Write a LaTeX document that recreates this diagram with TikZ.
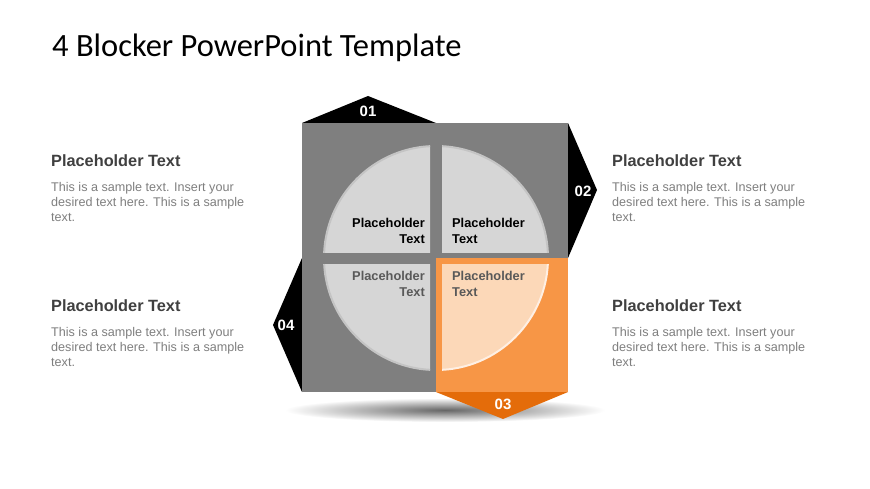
\documentclass[tikz,border=0pt]{standalone}
\usepackage{fontspec}
\setmainfont{Liberation Sans}
\newfontfamily\titlefont{Carlito}
\definecolor{sqgray}{HTML}{7F7F7F}
\definecolor{qgray}{HTML}{D6D6D6}
\definecolor{qedge}{HTML}{C4C4C4}
\definecolor{orsq}{HTML}{F79646}
\definecolor{ordark}{HTML}{E46C0A}
\definecolor{peach}{HTML}{FCD8B8}
\definecolor{headgray}{HTML}{404040}
\definecolor{bodygray}{HTML}{7F7F7F}
\definecolor{qtxtgray}{HTML}{595959}
\tikzset{
  numlabel/.style={text=white, font=\bfseries\fontsize{15}{17}\selectfont, inner sep=0pt},
  sidehead/.style={anchor=base west, text=headgray, font=\bfseries\fontsize{16.3}{18}\selectfont, inner sep=0pt},
  sidebody/.style={anchor=north west, align=left, text=bodygray, font=\fontsize{12.6}{15}\selectfont, inner sep=0pt},
  qtextR/.style={anchor=north east, align=right, font=\bfseries\fontsize{12.8}{15.5}\selectfont, inner sep=0pt},
  qtextL/.style={anchor=north west, align=left, font=\bfseries\fontsize{12.8}{15.5}\selectfont, inner sep=0pt},
  quarter/.style={fill=qgray},
}
\begin{document}
\begin{tikzpicture}[x=1pt,y=-1pt]
\useasboundingbox (0,0) rectangle (870,489);
\fill[white] (0,0) rectangle (870,489);

% title
\node[anchor=base west, inner sep=0pt, font=\titlefont\fontsize{32.5}{38}\selectfont] (title) at (52,57) {4 Blocker PowerPoint Template};

% shadow
\shade[inner color=black!60, outer color=white] (445,410) ellipse (160pt and 12pt);

% tabs
\fill[black] (302,123) -- (368,96) -- (436,123) -- cycle;
\fill[black] (568,123) -- (597,190) -- (568,258) -- cycle;
\fill[black] (302,258) -- (273,325) -- (302,392) -- cycle;
\fill[ordark] (436,392) -- (503,419) -- (568,392) -- cycle;

% square
\fill[sqgray] (302,123) rectangle (568,392);
\fill[orsq] (436,258) rectangle (568,392);

% quarters
\begin{scope}
  \clip (300,120) rectangle (430,252);
  \fill[quarter, draw=qedge, line width=2pt] (436,258) circle (112pt);
\end{scope}
\begin{scope}
  \clip (442,120) rectangle (570,252);
  \fill[quarter, draw=qedge, line width=2pt] (436,258) circle (112pt);
\end{scope}
\begin{scope}
  \clip (300,264) rectangle (430,395);
  \fill[quarter, draw=qedge, line width=2pt] (436,258) circle (112pt);
\end{scope}
\begin{scope}
  \clip (442,264) rectangle (570,395);
  \fill[peach, draw=white!60!peach, line width=2pt] (436,258) circle (112pt);
\end{scope}

% numbers
\node[numlabel] (n01) at (368,111) {01};
\node[numlabel] (n02) at (583,191.5) {02};
\node[numlabel] (n04) at (286,325.5) {04};
\node[numlabel] (n03) at (503,404.5) {03};

% quarter texts
\node[qtextR, text=black] (qtl) at (425,218.5) {Placeholder\\Text};
\node[qtextL, text=black] (qtr) at (452,218.5) {Placeholder\\Text};
\node[qtextR, text=qtxtgray] (qbl) at (425,271.5) {Placeholder\\Text};
\node[qtextL, text=qtxtgray] (qbr) at (452,271.5) {Placeholder\\Text};

% side texts
\node[sidehead] (h1) at (51,167) {Placeholder Text};
\node[sidebody] (b1) at (51,182) {This is a sample text. Insert your\\desired text here. This is a sample\\text.};
\node[sidehead] (h2) at (612,167) {Placeholder Text};
\node[sidebody] (b2) at (612,182) {This is a sample text. Insert your\\desired text here. This is a sample\\text.};
\node[sidehead] (h3) at (51,311) {Placeholder Text};
\node[sidebody] (b3) at (51,327) {This is a sample text. Insert your\\desired text here. This is a sample\\text.};
\node[sidehead] (h4) at (612,311) {Placeholder Text};
\node[sidebody] (b4) at (612,327) {This is a sample text. Insert your\\desired text here. This is a sample\\text.};
\end{tikzpicture}
\end{document}
